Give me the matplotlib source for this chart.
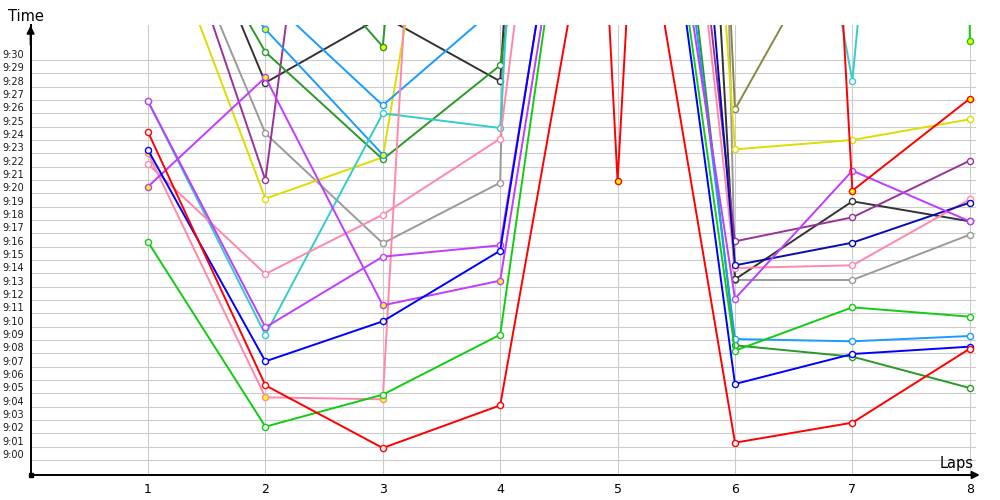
import numpy as np
import matplotlib
matplotlib.use("Agg")
import matplotlib.pyplot as plt
import matplotlib.transforms as mtransforms

nan = np.nan

# laps 1..8, values = minutes past 9:00 (values above ~32.6 run off the top)
laps = [1, 2, 3, 4, 5, 6, 7, 8]
minute_labels = ["9:%02d" % m for m in range(31)]

red_a = [24.6, 5.6, 0.9, 4.1, 53.6, 1.3, 2.8, 8.35]
red_b = [nan, nan, nan, 190, 20.9, 180, 20.2, 27.1]
blue = [23.25, 7.4, 10.4, 15.7, 71, 5.7, 7.95, 8.5]
navy = [nan, nan, nan, nan, 117, 14.6, 16.3, 19.3]
violet_a = [20.5, 28.7, 11.6, 13.45, 68, nan, nan, nan]
violet_b = [26.9, 9.95, 15.25, 16.1, 70, 12.1, 21.7, 17.9]
cyan = [26.9, 9.4, 26.0, 24.9, 174, 76, 28.45, 121]
lightblue_a = [44, 32.3, 22.9, nan, nan, nan, nan, nan]
lightblue_b = [45, 34.8, 26.6, 34.2, 80, 9.07, 8.9, 9.3]
darkgreen_a = [45.9, 30.6, 22.55, 29.6, 85, 8.6, 7.75, 5.4]
darkgreen_b = [nan, 41, 31.0, 128, nan, nan, nan, nan]
green_a = [16.35, 2.5, 4.9, 9.4, 71, 8.2, 11.45, 10.75]
green_b = [nan, nan, nan, nan, nan, nan, 2000, 31.45]
yellow = [42.9, 19.6, 22.7, 74.6, 145, 23.3, 24.0, 25.55]
pink_a = [22.2, 13.95, 18.4, 24.1, 94, 14.4, 14.6, 19.55]
pink_b = [23.0, 4.7, 4.55, 162, nan, nan, nan, nan]
purple = [47, 21.0, 87.5, 90, 96, 16.4, 18.2, 22.45]
gray = [45.5, 24.5, 16.25, 20.8, 400, 13.5, 13.5, 16.9]
black = [49.4, 28.3, 33.3, 28.4, 170, 13.55, 19.4, 17.9]
olive = [nan, nan, nan, nan, 212, 26.3, 42.0, nan]

# (values, line colour, marker fill)
series = [
    (olive, "#888844", "white"),
    (gray, "#9a9a9a", "white"),
    (black, "#333333", "white"),
    (purple, "#993399", "white"),
    (yellow, "#dddd00", "white"),
    (darkgreen_b, "#2a992a", "yellow"),
    (darkgreen_a, "#2a992a", "white"),
    (lightblue_a, "#1a9cff", "yellow"),
    (lightblue_b, "#1a9cff", "white"),
    (cyan, "#33cccc", "white"),
    (pink_a, "#ff88aa", "white"),
    (pink_b, "#ff88aa", "yellow"),
    (navy, "#0a0ab4", "white"),
    (violet_b, "#c03cff", "white"),
    (violet_a, "#c03cff", "yellow"),
    (blue, "#0000ff", "white"),
    (green_a, "#11cc11", "white"),
    (green_b, "#11cc11", "yellow"),
    (red_a, "#ff0000", "white"),
    (red_b, "#ff0000", "yellow"),
]

fig = plt.figure(figsize=(10, 5), dpi=100)
ax = fig.add_axes([0.0306, 0.05, 0.9454, 0.9])
ax.set_xlim(0, 8.053)
ax.set_ylim(-1.125, 32.625)

# grid
ax.set_xticks(laps)
ax.set_yticks(range(31))
ax.grid(True, color="#cccccc", lw=0.8)
ax.set_axisbelow(True)
ax.tick_params(axis="both", length=0)
ax.tick_params(axis="x", pad=6, labelsize=9)
ax.tick_params(axis="y", labelleft=False)

for s in ["top", "right"]:
    ax.spines[s].set_visible(False)
for s in ["left", "bottom"]:
    ax.spines[s].set_linewidth(1.4)
    ax.spines[s].set_color("black")

# y labels sit a little above their gridline, flush left
trans = mtransforms.offset_copy(ax.get_yaxis_transform(), fig=fig, x=0, y=5, units="dots")
for m, lab in enumerate(minute_labels):
    ax.text(-0.0295, m, lab, transform=trans, ha="left", va="center",
            fontsize=7, color="#1a1a1a")

# the lines
for vals, col, face in series:
    ax.plot(laps, vals, color=col, lw=1.4, marker="o", ms=4.4,
            mfc=face, mec=col, mew=1.0, zorder=3)

# axis arrows
ax.annotate("", xy=(0, 1.005), xytext=(0, 0.95), xycoords="axes fraction",
            arrowprops=dict(arrowstyle="-|>", color="black", lw=1.4, mutation_scale=11))
ax.annotate("", xy=(1.007, 0), xytext=(0.97, 0), xycoords="axes fraction",
            arrowprops=dict(arrowstyle="-|>", color="black", lw=1.4, mutation_scale=11))
ax.plot([0], [-1.125], "s", color="black", ms=3, clip_on=False, zorder=5)

fig.text(0.008, 0.958, "Time", fontsize=10.5, va="baseline", ha="left")
fig.text(0.974, 0.064, "Laps", fontsize=10.5, va="baseline", ha="right")

fig.savefig("out.png", dpi=100)
